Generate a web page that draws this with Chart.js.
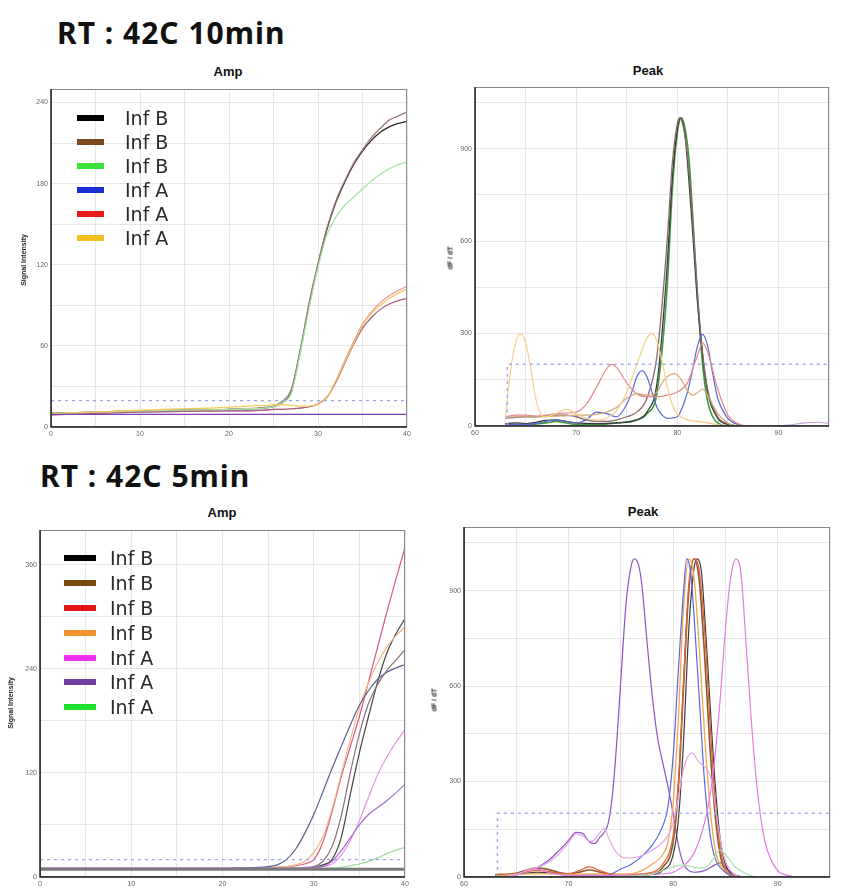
<!DOCTYPE html>
<html>
<head>
<meta charset="utf-8">
<script src="https://cdn.jsdelivr.net/npm/chart.js@4.4.1/dist/chart.umd.min.js"></script>
<style>
  body { margin:0; width:844px; height:890px; background:#fff; position:relative; overflow:hidden; font-family:'Liberation Sans', Arial, sans-serif; }
  .head { position:absolute; font-family:'Noto Sans', sans-serif; font-weight:bold; font-size:30px; line-height:30px; color:#111; white-space:nowrap; letter-spacing:1px; }
  .box { position:absolute; }
  .ptitle { position:absolute; font-weight:bold; font-size:13px; line-height:13px; color:#111; transform:translateX(-50%); white-space:nowrap; }
  .ytitle { position:absolute; font-weight:bold; font-size:7px; line-height:7px; color:#222; transform:translate(-50%,-50%) rotate(-90deg); white-space:nowrap; }
  .legend { position:absolute; font-family:'DejaVu Sans', sans-serif; font-size:19px; color:#2a2a2a; }
  .legend .row { display:flex; align-items:center; }
  .legend .sw { display:inline-block; height:6px; }
</style>
</head>
<body>
<div class="head" style="left:57px;top:18px">RT : 42C 10min</div>
<div class="head" style="left:40px;top:461px">RT : 42C 5min</div>

<div class="ptitle" style="left:228px;top:65px">Amp</div>
<div class="ptitle" style="left:648px;top:64px">Peak</div>
<div class="ptitle" style="left:222px;top:506px">Amp</div>
<div class="ptitle" style="left:643px;top:505px">Peak</div>

<div class="box" style="left:5px;top:60px"><canvas id="ampTop" width="410" height="385"></canvas></div>
<div class="box" style="left:425px;top:58px"><canvas id="peakTop" width="412" height="385"></canvas></div>
<div class="box" style="left:0px;top:498px"><canvas id="ampBot" width="413" height="392"></canvas></div>
<div class="box" style="left:420px;top:495px"><canvas id="peakBot" width="418" height="395"></canvas></div>

<div class="ytitle" style="left:23px;top:260px">Signal Intensity</div>
<div class="ytitle" style="left:450px;top:258px">dF / dT</div>
<div class="ytitle" style="left:10px;top:703px">Signal Intensity</div>
<div class="ytitle" style="left:434px;top:700px">dF / dT</div>

<div class="legend" id="legTop" style="left:77px;top:106px"></div>
<div class="legend" id="legBot" style="left:64px;top:546px"></div>

<script>
// ---- legends
const legTopLabels = ['Inf B', 'Inf B', 'Inf B', 'Inf A', 'Inf A', 'Inf A'];
const legTopColors = ['#000000', '#7b4a1e', '#3ce23c', '#1c2fd4', '#ea1a1a', '#f5c024'];
const legBotLabels = ['Inf B', 'Inf B', 'Inf B', 'Inf B', 'Inf A', 'Inf A', 'Inf A'];
const legBotColors = ['#000000', '#7a4a12', '#e01515', '#f09030', '#f030f0', '#7040a0', '#20e030'];

// ---- amplification curves (cycle -> signal)
const cycles = [0, 5, 10, 15, 20, 22, 24, 25, 26, 27, 28, 29, 30, 31, 32, 33, 34, 35, 36, 37, 38, 39, 40];

const ampTopBlack  = [10, 11, 12, 12.5, 13, 13.5, 14, 15, 18, 26, 56, 90, 120, 146, 166, 181, 194, 204, 212, 218, 222, 224.5, 226];
const ampTopBrown  = [10, 11, 12, 12.5, 13, 13.5, 14.5, 15.5, 19, 28, 57, 92, 121, 147, 167, 182, 195, 205, 214, 221, 227, 230, 233];
const ampTopGreen  = [10, 11, 12, 12.5, 13, 13.5, 14, 15, 18, 25, 54, 88, 118, 142, 155, 164, 170, 176, 182, 187, 191, 194, 196];
const ampTopPink   = [9, 10, 11, 11.5, 12, 12, 12.5, 13, 13, 13.5, 14, 15, 17, 22, 34, 49, 63, 76, 85, 92, 97, 101, 104];
const ampTopMauve  = [9, 10, 11, 11.5, 12, 12, 12.5, 13, 13, 13.5, 14, 15, 17, 22, 33, 47, 61, 73, 81, 87, 91, 93.5, 95];
const ampTopYellow = [10, 11, 12.5, 13.5, 14.5, 15.5, 16, 16.5, 16.5, 16, 15.5, 15.5, 17, 22, 34, 48, 62, 75, 84, 90, 95, 99, 102];
const ampTopFlat   = [9.4, 9.4, 9.4, 9.4, 9.4, 9.4, 9.4, 9.4, 9.4, 9.4, 9.4, 9.4, 9.4, 9.4, 9.4, 9.4, 9.4, 9.4, 9.4, 9.4, 9.4, 9.4, 9.4];
const ampTopThreshold = 19.5;
const ampTopYTicks = [0, 60, 120, 180, 240];

const ampBotRed     = [10, 10, 10, 10, 10, 10, 10, 10.5, 11, 12, 13, 15, 20, 40, 75, 115, 150, 185, 225, 265, 305, 343, 380];
const ampBotSlate   = [10, 10, 10, 10, 10, 10.5, 11, 12, 14, 20, 32, 50, 72, 98, 125, 150, 175, 198, 215, 228, 236, 241, 245];
const ampBotOrange  = [10, 10, 10, 10, 10, 10, 10.5, 11, 11.5, 12, 14, 18, 28, 46, 78, 118, 158, 195, 224, 247, 265, 278, 288];
const ampBotBlack   = [9, 9, 9, 9, 9, 9, 9, 9, 9.5, 10, 10, 10.5, 11, 14, 20, 45, 95, 143, 185, 225, 258, 280, 298];
const ampBotBrown   = [9.5, 9.5, 9.5, 9.5, 9.5, 9.5, 9.5, 10, 10, 10, 10.5, 11, 12, 18, 35, 70, 120, 165, 200, 222, 238, 250, 262];
const ampBotMagenta = [10, 10, 10, 10, 10, 10, 10, 10, 10, 10, 10, 10.5, 11, 12, 15, 25, 42, 65, 92, 118, 138, 155, 170];
const ampBotPurple  = [10, 10, 10, 10, 10, 10, 10, 10, 10, 10, 10, 10.5, 11, 12, 18, 30, 45, 60, 72, 80, 88, 97, 107];
const ampBotGreen   = [9, 9, 9, 9, 9, 9, 9, 9, 9, 9, 9, 9, 9.5, 10, 10.5, 11, 13, 15, 18, 22, 27, 31, 34];
const ampBotBase    = [9, 9, 9, 9, 9, 9, 9, 9, 9, 9, 9, 9, 9, 9, 9, 9, 9, 9, 9, 9, 9, 9, 9];
const ampBotThreshold = 20;
const ampBotYTicks = [0, 120, 240, 360];
const ampXTicks = [0, 10, 20, 30, 40];

// ---- melt peaks ([temperature, dF/dT])
const peakTopBlack = [[63,8],[64,10],[65,8],[66,12],[67,18],[68,20],[69,15],[70,10],[72,8],[74,10],[76,20],[77,45],[78,140],[79,520],[79.5,800],[80,960],[80.3,1000],[80.7,960],[81,860],[81.5,640],[82,400],[82.5,230],[83,110],[84,25],[85,5],[86,0],[95,0]];
const peakTopBrown = [[63,25],[64,28],[65,30],[66,30],[67,32],[68,35],[69,35],[70,30],[71,20],[72,15],[73,15],[74,20],[75,30],[76,45],[77,90],[78,230],[79,600],[79.5,850],[80,980],[80.2,1000],[80.6,970],[81,880],[81.5,680],[82,430],[82.5,240],[83,120],[84,30],[85,8],[86,0],[95,0]];
const peakTopGreen = [[63,5],[65,5],[67,10],[68,15],[69,10],[70,5],[72,5],[74,10],[76,20],[77,40],[78,110],[79,450],[79.5,760],[80,950],[80.4,1000],[80.8,960],[81.2,850],[81.6,640],[82,420],[82.5,200],[83,80],[83.5,30],[84,10],[85,0],[95,0]];
const peakTopBlue = [[63,5],[65,5],[66,8],[67,15],[68,20],[69,15],[70,10],[71,20],[72,45],[73,40],[74,30],[75,70],[75.5,110],[76,160],[76.5,180],[77,160],[77.5,110],[78,60],[78.5,35],[79,25],[80,30],[80.5,60],[81,110],[81.5,180],[82,260],[82.5,297],[83,260],[83.5,170],[84,90],[85,25],[86,5],[87,0],[95,0]];
const peakTopRed = [[63,30],[64,35],[65,35],[66,32],[67,35],[68,40],[69,42],[70,45],[71,70],[72,125],[73,185],[73.5,200],[74,190],[75,140],[76,105],[77,95],[78,95],[79,100],[80,110],[81,140],[82,230],[82.5,270],[83,240],[84,120],[85,35],[86,8],[87,0],[95,0]];
const peakTopYellow = [[63,20],[63.3,120],[63.7,220],[64.2,290],[64.5,298],[65,270],[65.5,190],[66,90],[66.5,40],[67,30],[68,40],[69,55],[70,40],[71,25],[72,20],[73,25],[74,50],[75,110],[76,200],[77,285],[77.5,300],[78,275],[78.5,210],[79,130],[79.5,70],[80,40],[81,20],[82,15],[83,10],[85,0],[95,0]];
const peakTopTan = [[63,28],[64,30],[66,30],[68,32],[70,35],[72,38],[73,45],[74,60],[75,90],[76,105],[77,100],[78,110],[78.5,140],[79,160],[79.7,170],[80.3,155],[81,115],[81.5,100],[82,108],[82.5,120],[83,100],[84,40],[85,10],[86,0],[95,0]];
const peakTopViolet = [[63,0],[88,0],[91,3],[92.5,10],[94,12],[95,8]];
const peakTopThreshold = [[63.2,0],[63.2,200],[95,200]];

const peakBotPurple = [[63,2],[64,4],[65,8],[66,18],[67,30],[68,50],[69,80],[70,115],[70.7,140],[71.3,138],[72,110],[72.5,105],[73,125],[73.4,140],[73.8,170],[74.2,260],[74.6,420],[75,620],[75.5,860],[76,980],[76.3,1000],[76.7,980],[77,920],[77.5,740],[78,570],[78.5,440],[79,360],[79.5,285],[80,200],[80.5,100],[81,40],[81.5,20],[82,15],[83,20],[84,38],[84.6,45],[85,30],[86,5],[87,0],[95,0]];
const peakBotPink = [[63,0],[64,3],[65,8],[66,20],[67,30],[68,45],[69,70],[70,108],[70.7,135],[71.4,128],[72,112],[72.5,118],[73,140],[73.4,152],[73.8,125],[74.5,80],[75.5,60],[76.5,62],[77.5,75],[78.5,95],[79.5,130],[80,170],[80.5,250],[81,340],[81.8,390],[82.5,360],[83.2,340],[83.7,300],[84.2,180],[84.8,70],[85.5,20],[86,5],[87,0],[95,0]];
const peakBotMagenta = [[63,0],[65,5],[66,22],[67,25],[68,15],[69,8],[70,5],[72,5],[75,5],[78,8],[80,15],[81,35],[82,75],[83,170],[83.5,250],[84,380],[84.5,560],[85,780],[85.5,940],[86,1000],[86.5,950],[87,720],[87.5,480],[88,290],[88.5,160],[89,85],[90,20],[91,5],[92,0],[95,0]];
const peakBotBlue = [[63,0],[70,0],[73,2],[74,8],[75,25],[76,40],[77,65],[78,100],[79,160],[79.5,220],[80,380],[80.5,650],[81,900],[81.3,1000],[81.7,950],[82,820],[82.5,560],[83,300],[83.5,140],[84,60],[85,15],[86,0],[95,0]];
const peakBotBlack = [[63,5],[65,8],[66,12],[67,15],[68,14],[69,10],[70,6],[72,5],[75,5],[78,8],[79,20],[80,70],[80.5,180],[81,430],[81.5,780],[82,970],[82.3,1000],[82.7,960],[83,830],[83.5,560],[84,300],[84.5,120],[85,40],[86,5],[87,0],[95,0]];
const peakBotBrown = [[63,8],[65,12],[66,22],[67,28],[68,24],[69,15],[70,10],[71,15],[72,22],[73,15],[74,8],[76,5],[78,10],[79,30],[80,110],[80.5,280],[81,600],[81.5,900],[82,1000],[82.5,930],[83,700],[83.5,420],[84,200],[84.5,70],[85,20],[86,3],[87,0],[95,0]];
const peakBotRed = [[63,5],[65,10],[66,18],[67,20],[68,18],[69,12],[70,10],[71,20],[72,32],[73,20],[74,10],[76,8],[78,15],[79,40],[80,130],[80.5,300],[81,620],[81.5,920],[82,1000],[82.4,980],[83,780],[83.5,500],[84,250],[84.5,90],[85,25],[86,3],[87,0],[95,0]];
const peakBotOrange = [[63,3],[66,10],[68,10],[70,8],[72,10],[74,8],[76,10],[77,20],[78,40],[79,70],[79.5,110],[80,230],[80.5,500],[81,850],[81.5,1000],[82,940],[82.5,720],[83,450],[83.5,230],[84,90],[85,20],[86,0],[95,0]];
const peakBotGreen = [[63,0],[70,0],[75,2],[77,5],[78,10],[79,20],[80,32],[81,38],[82,30],[83,28],[83.8,55],[84.5,85],[85,70],[86,30],[87,10],[88,0],[95,0]];
const peakBotThreshold = [[63.2,0],[63.2,200],[95,200]];
const peakYTicks = [0, 300, 600, 900];
const peakXTicks = [60, 70, 80, 90];

// ---- helpers
function fillLegend(id, labels, colors, swW, gap, rowH) {
  const el = document.getElementById(id);
  el.innerHTML = labels.map((l, i) =>
    `<div class="row" style="height:${rowH}px"><span class="sw" style="width:${swW}px;background:${colors[i]};margin-right:${gap}px"></span>${l}</div>`
  ).join('');
}
fillLegend('legTop', legTopLabels, legTopColors, 27, 21, 24);
fillLegend('legBot', legBotLabels, legBotColors, 32, 14, 24.8);

function fromCycles(vals) {
  return cycles.map((c, i) => ({x: c, y: vals[i]}));
}
function fromPairs(p) {
  return p.map(d => ({x: d[0], y: d[1]}));
}
function line(data, color, width, dash) {
  return {
    data: data,
    borderColor: color,
    borderWidth: width || 1.2,
    borderDash: dash || [],
    pointRadius: 0,
    fill: false,
    cubicInterpolationMode: 'monotone'
  };
}

const framePlugin = {
  id: 'frame',
  afterDraw(chart) {
    const ctx = chart.ctx, a = chart.chartArea;
    ctx.save();
    ctx.strokeStyle = '#8a8a8a';
    ctx.lineWidth = 1;
    ctx.strokeRect(a.left + 0.5, a.top + 0.5, a.right - a.left - 1, a.bottom - a.top - 1);
    ctx.strokeStyle = '#222';
    ctx.lineWidth = 1.5;
    ctx.beginPath();
    ctx.moveTo(a.left, a.top);
    ctx.lineTo(a.left, a.bottom);
    ctx.lineTo(a.right, a.bottom);
    ctx.stroke();
    ctx.restore();
  }
};

function makeChart(id, datasets, o) {
  const tickFont = {size: 7, family: "'Liberation Sans', Arial"};
  return new Chart(document.getElementById(id), {
    type: 'line',
    data: {datasets: datasets},
    options: {
      responsive: false,
      animation: false,
      layout: {padding: {top: o.top, right: 8, left: 0, bottom: 0}},
      plugins: {legend: {display: false}, tooltip: {enabled: false}},
      scales: {
        x: {
          type: 'linear', min: o.xMin, max: o.xMax,
          ticks: {
            stepSize: 5, autoSkip: false, maxRotation: 0, font: tickFont, color: '#666', padding: 3,
            callback: v => o.xLabels.includes(v) ? String(v) : ''
          },
          grid: {color: '#e6e6e6', drawTicks: false},
          border: {display: false},
          afterFit: s => { s.height = o.xh; }
        },
        y: {
          min: 0, max: o.yMax,
          ticks: {
            stepSize: o.yStep, autoSkip: false, font: tickFont, color: '#666', padding: 3,
            callback: v => o.yLabels.includes(v) ? String(v) : ''
          },
          grid: {color: '#e6e6e6', drawTicks: false},
          border: {display: false},
          afterFit: s => { s.width = o.yw; }
        }
      }
    },
    plugins: [framePlugin]
  });
}

// ---- top left: Amp, 10 min
makeChart('ampTop', [
  line(fromCycles(cycles.map(() => ampTopThreshold)), '#9aa6e6', 1.3, [3, 4]),
  line(fromCycles(ampTopFlat), '#7a3fb5', 1.2),
  line(fromCycles(ampTopYellow), '#f2cc55', 1.2),
  line(fromCycles(ampTopGreen), '#a8e4a8', 1.3),
  line(fromCycles(ampTopMauve), '#a46080', 1.2),
  line(fromCycles(ampTopPink), '#ee8aa4', 1.2),
  line(fromCycles(ampTopBrown), '#9a7a70', 1.3),
  line(fromCycles(ampTopBlack), '#2a2a2a', 1.3)
], {top: 29, xh: 18, yw: 46, xMin: 0, xMax: 40, yMax: 250, yStep: 30, xLabels: ampXTicks, yLabels: ampTopYTicks});

// ---- top right: Peak, 10 min
makeChart('peakTop', [
  line(fromPairs(peakTopThreshold), '#a6aee6', 1.5, [3, 4]),
  line(fromPairs(peakTopViolet), '#c0a0d8', 1.1),
  line(fromPairs(peakTopYellow), '#f5cf8a', 1.2),
  line(fromPairs(peakTopTan), '#d6a878', 1.2),
  line(fromPairs(peakTopRed), '#e48a8a', 1.2),
  line(fromPairs(peakTopBlue), '#5a68d6', 1.2),
  line(fromPairs(peakTopBrown), '#8a6a6a', 1.3),
  line(fromPairs(peakTopBlack), '#3a3a3a', 1.3),
  line(fromPairs(peakTopGreen), '#3e9e3e', 1.6)
], {top: 29, xh: 17, yw: 50, xMin: 60, xMax: 95, yMax: 1100, yStep: 150, xLabels: peakXTicks, yLabels: peakYTicks});

// ---- bottom left: Amp, 5 min
makeChart('ampBot', [
  line(fromCycles(cycles.map(() => ampBotThreshold)), '#9aa6e6', 1.3, [3, 4]),
  line(fromCycles(ampBotBase), '#7a7a7a', 3),
  line(fromCycles(ampBotGreen), '#9adc9a', 1.2),
  line(fromCycles(ampBotPurple), '#a070c8', 1.2),
  line(fromCycles(ampBotMagenta), '#e890e8', 1.2),
  line(fromCycles(ampBotBrown), '#8a6e78', 1.2),
  line(fromCycles(ampBotSlate), '#5a6090', 1.2),
  line(fromCycles(ampBotOrange), '#f2b888', 1.2),
  line(fromCycles(ampBotBlack), '#444444', 1.2),
  line(fromCycles(ampBotRed), '#d85878', 1.2)
], {top: 32, xh: 13, yw: 40, xMin: 0, xMax: 40, yMax: 400, yStep: 60, xLabels: ampXTicks, yLabels: ampBotYTicks});

// ---- bottom right: Peak, 5 min
makeChart('peakBot', [
  line(fromPairs(peakBotThreshold), '#a6aee6', 1.5, [3, 4]),
  line(fromPairs(peakBotGreen), '#a8e4b0', 1.2),
  line(fromPairs(peakBotPink), '#e6a6e6', 1.2),
  line(fromPairs(peakBotMagenta), '#e47ae4', 1.2),
  line(fromPairs(peakBotBlue), '#5a66e0', 1.2),
  line(fromPairs(peakBotOrange), '#f0a850', 1.3),
  line(fromPairs(peakBotRed), '#e0603a', 1.3),
  line(fromPairs(peakBotBrown), '#8b5a2b', 1.6),
  line(fromPairs(peakBotBlack), '#3a3a3a', 1.2),
  line(fromPairs(peakBotPurple), '#8a54c4', 1.2)
], {top: 32, xh: 13, yw: 44, xMin: 60, xMax: 95, yMax: 1100, yStep: 150, xLabels: peakXTicks, yLabels: peakYTicks});
</script>
</body>
</html>
